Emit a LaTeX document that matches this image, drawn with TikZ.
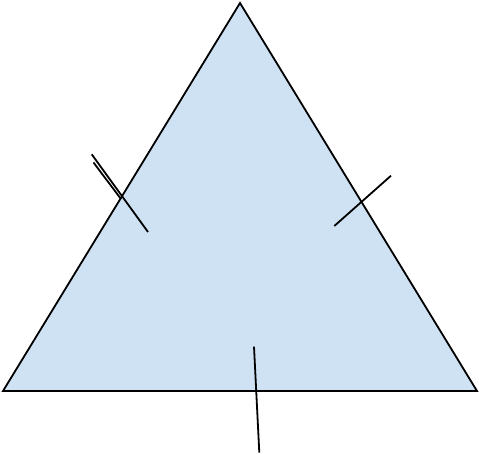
\documentclass[tikz,border=0pt]{standalone}
\definecolor{trifill}{HTML}{CFE2F3}
\begin{document}
\begin{tikzpicture}[x=1pt,y=-1pt,
  edge/.style={draw=black,line width=1.8pt,line join=miter},
  tickline/.style={draw=black,line width=1.8pt}]
\useasboundingbox (0,0) rectangle (479,454);
\coordinate (A) at (240,3);
\coordinate (B) at (3,391);
\coordinate (C) at (477,391);
\path[edge,fill=trifill] (A) -- (B) -- (C) -- cycle;
\coordinate (l1a) at (91.7,154.3);
\coordinate (l1b) at (148,232);
\coordinate (l2a) at (93.5,162.5);
\coordinate (l2b) at (121,199);
\coordinate (r1a) at (334.3,226);
\coordinate (r1b) at (391,175.7);
\coordinate (b1a) at (254,346.7);
\coordinate (b1b) at (259.3,452.7);
\path[tickline] (l1a) -- (l1b);
\path[tickline] (l2a) -- (l2b);
\path[tickline] (r1a) -- (r1b);
\path[tickline] (b1a) -- (b1b);
\end{tikzpicture}
\end{document}
